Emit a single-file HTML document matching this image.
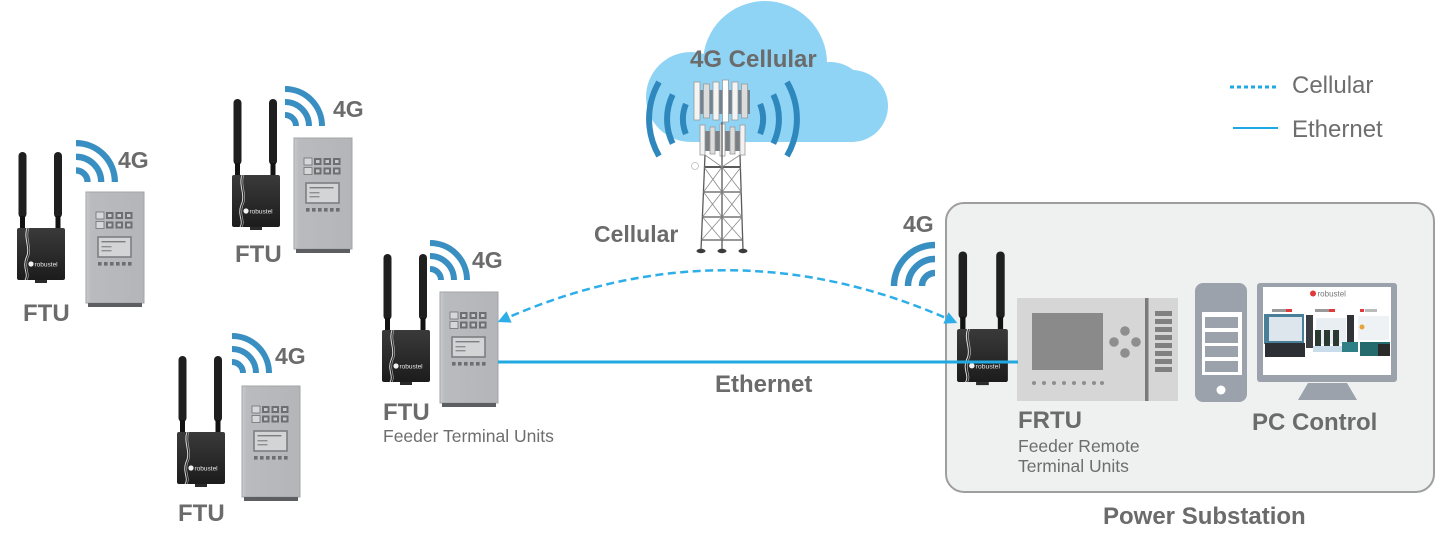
<!DOCTYPE html>
<html>
<head>
<meta charset="utf-8">
<style>
  html, body { margin:0; padding:0; background:#ffffff; }
  svg { display:block; }
  .lb { font-family:"Liberation Sans", Arial, sans-serif; font-weight:bold; fill:#6b6b6b; }
  .lr { font-family:"Liberation Sans", Arial, sans-serif; fill:#6e6e6e; }
</style>
</head>
<body>
<svg width="1451" height="552" viewBox="0 0 1451 552" xmlns="http://www.w3.org/2000/svg">
  <defs>
    <linearGradient id="rg" x1="0" y1="0" x2="0" y2="1">
      <stop offset="0" stop-color="#3a3a3a"/>
      <stop offset="1" stop-color="#1c1c1c"/>
    </linearGradient>
    <linearGradient id="cg" x1="0" y1="0" x2="1" y2="0">
      <stop offset="0" stop-color="#c9cbce"/>
      <stop offset="0.08" stop-color="#b9bbbe"/>
      <stop offset="1" stop-color="#b3b5b8"/>
    </linearGradient>
    <marker id="ah" viewBox="0 0 10 10" refX="8" refY="5" markerWidth="5" markerHeight="5" orient="auto-start-reverse">
      <path d="M0,0 L10,5 L0,10 z" fill="#2eaee8"/>
    </marker>

    <g id="router">
      <rect x="1.5" y="-76" width="8" height="66" rx="4" fill="#1f1f1f"/>
      <rect x="3" y="-12" width="5" height="13" fill="#121212"/>
      <rect x="37" y="-76" width="8" height="66" rx="4" fill="#1f1f1f"/>
      <rect x="38.5" y="-12" width="5" height="13" fill="#121212"/>
      <rect x="0" y="0" width="48" height="52" rx="2" fill="url(#rg)"/>
      <path d="M10,0 C6,10 14,20 9,30 C5,40 12,46 8,52" stroke="#e6e6e6" stroke-width="0.9" fill="none"/>
      <path d="M12,0 C8,10 16,20 11,30 C7,40 14,46 10,52" stroke="#bdbdbd" stroke-width="0.6" fill="none"/>
      <circle cx="14" cy="36" r="2.6" fill="#f2f2f2"/>
      <text x="17.5" y="38.5" font-family="Liberation Sans, Arial, sans-serif" font-size="6.5" fill="#e8e8e8">robustel</text>
      <rect x="18" y="52" width="12" height="3" fill="#2a2a2a"/>
    </g>

    <g id="cab">
      <rect x="0" y="0" width="58" height="111" fill="url(#cg)" stroke="#a3a5a8" stroke-width="1"/>
      <rect x="10" y="20" width="8" height="7" fill="#d6d7d9" stroke="#707276" stroke-width="0.8"/>
      <rect x="20" y="20" width="7.5" height="7" fill="#6c6e72"/>
      <rect x="29.5" y="20" width="7.5" height="7" fill="#6c6e72"/>
      <rect x="39" y="20" width="7.5" height="7" fill="#6c6e72"/>
      <rect x="10" y="29.5" width="8" height="7" fill="#d6d7d9" stroke="#707276" stroke-width="0.8"/>
      <rect x="20" y="29.5" width="7.5" height="7" fill="#6c6e72"/>
      <rect x="29.5" y="29.5" width="7.5" height="7" fill="#6c6e72"/>
      <rect x="39" y="29.5" width="7.5" height="7" fill="#6c6e72"/>
      <rect x="22" y="22" width="3.5" height="3" fill="#c8c9cb"/>
      <rect x="31.5" y="22" width="3.5" height="3" fill="#c8c9cb"/>
      <rect x="41" y="22" width="3.5" height="3" fill="#c8c9cb"/>
      <rect x="22" y="31.5" width="3.5" height="3" fill="#c8c9cb"/>
      <rect x="31.5" y="31.5" width="3.5" height="3" fill="#c8c9cb"/>
      <rect x="41" y="31.5" width="3.5" height="3" fill="#c8c9cb"/>
      <rect x="12" y="45" width="33" height="20" fill="#d2d4d6" stroke="#7c7e82" stroke-width="1.6"/>
      <rect x="15.5" y="49" width="24" height="1.4" fill="#7c7e82"/>
      <rect x="15.5" y="54" width="10" height="1.4" fill="#8c8e92"/>
      <rect x="15.5" y="58" width="10" height="1.4" fill="#8c8e92"/>
      <rect x="12" y="70" width="3.6" height="3.6" fill="#6c6e72"/>
      <rect x="18" y="70" width="3.6" height="3.6" fill="#6c6e72"/>
      <rect x="24" y="70" width="3.6" height="3.6" fill="#6c6e72"/>
      <rect x="30" y="70" width="3.6" height="3.6" fill="#6c6e72"/>
      <rect x="36" y="70" width="3.6" height="3.6" fill="#6c6e72"/>
      <rect x="42" y="70" width="3.6" height="3.6" fill="#6c6e72"/>
      <rect x="2" y="111" width="54" height="4" fill="#5c5e62"/>
    </g>

    <g id="wifi" fill="none" stroke="#3a8fc2" stroke-width="6">
      <path d="M0,29 A11,11 0 0 1 11,40"/>
      <path d="M0,16 A24,24 0 0 1 24,40"/>
      <path d="M0,3 A37,37 0 0 1 37,40"/>
    </g>
  </defs>

  <!-- Cloud -->
  <g fill="#90d4f5">
    <circle cx="765" cy="63" r="62"/>
    <circle cx="691" cy="97" r="45"/>
    <circle cx="852" cy="106" r="36"/>
    <circle cx="830" cy="100" r="38"/>
    <rect x="691" y="92" width="161" height="50"/>
  </g>
  <text class="lb" x="690" y="67" font-size="24">4G Cellular</text>

  <!-- Tower signal arcs -->
  <g fill="none" stroke="#2f88bd" stroke-width="6">
    <path d="M659,82 A74,74 0 0 0 659,156"/>
    <path d="M672.7,94.5 A56,56 0 0 0 672.7,143.5"/>
    <path d="M685.9,104 A40,40 0 0 0 685.9,134"/>
    <path d="M787,82 A74,74 0 0 1 787,156"/>
    <path d="M773.3,94.5 A56,56 0 0 1 773.3,143.5"/>
    <path d="M760.1,104 A40,40 0 0 1 760.1,134"/>
  </g>

  <!-- Tower -->
  <g>
    <rect x="697" y="90" width="53" height="24" fill="#6f8390"/>
    <rect x="694" y="82" width="6" height="38" fill="#f4f4f4" stroke="#9a9a9a" stroke-width="0.8"/>
    <rect x="703.5" y="84" width="6" height="34" fill="#dcdcdc" stroke="#9a9a9a" stroke-width="0.8"/>
    <rect x="713" y="82" width="6" height="38" fill="#f4f4f4" stroke="#9a9a9a" stroke-width="0.8"/>
    <rect x="722.5" y="80" width="6" height="42" fill="#ffffff" stroke="#9a9a9a" stroke-width="0.8"/>
    <rect x="732" y="82" width="6" height="38" fill="#f4f4f4" stroke="#9a9a9a" stroke-width="0.8"/>
    <rect x="741.5" y="84" width="6" height="34" fill="#dcdcdc" stroke="#9a9a9a" stroke-width="0.8"/>
    <rect x="702" y="131" width="42" height="20" fill="#7a7f84"/>
    <rect x="700" y="125" width="5" height="30" fill="#f2f2f2" stroke="#999" stroke-width="0.8"/>
    <rect x="710" y="127" width="5" height="27" fill="#dcdcdc" stroke="#999" stroke-width="0.8"/>
    <rect x="720" y="124" width="5" height="32" fill="#ffffff" stroke="#999" stroke-width="0.8"/>
    <rect x="730" y="127" width="5" height="27" fill="#dcdcdc" stroke="#999" stroke-width="0.8"/>
    <rect x="740" y="125" width="5" height="30" fill="#f2f2f2" stroke="#999" stroke-width="0.8"/>
    <g stroke="#5a5a5a" stroke-width="1.3" fill="none">
      <line x1="705" y1="155" x2="701" y2="250"/>
      <line x1="722" y1="122" x2="722" y2="250"/>
      <line x1="740" y1="155" x2="743" y2="250"/>
      <line x1="704" y1="167" x2="741" y2="167" stroke-width="2"/>
      <line x1="703.5" y1="192" x2="741.5" y2="192"/>
      <line x1="702.5" y1="217" x2="742" y2="217"/>
      <line x1="701.5" y1="240" x2="742.5" y2="240"/>
    </g>
    <g stroke="#8a8a8a" stroke-width="0.8" fill="none">
      <line x1="704" y1="167" x2="722" y2="192"/><line x1="722" y1="167" x2="703.5" y2="192"/>
      <line x1="722" y1="167" x2="741.5" y2="192"/><line x1="741" y1="167" x2="722" y2="192"/>
      <line x1="703.5" y1="192" x2="722" y2="217"/><line x1="722" y1="192" x2="702.5" y2="217"/>
      <line x1="722" y1="192" x2="742" y2="217"/><line x1="741.5" y1="192" x2="722" y2="217"/>
      <line x1="702.5" y1="217" x2="722" y2="240"/><line x1="722" y1="217" x2="701.5" y2="240"/>
      <line x1="722" y1="217" x2="742.5" y2="240"/><line x1="742" y1="217" x2="722" y2="240"/>
      <line x1="705" y1="155" x2="722" y2="167"/><line x1="740" y1="155" x2="722" y2="167"/>
    </g>
    <circle cx="695" cy="166" r="3.5" fill="#fff" stroke="#bbb" stroke-width="0.8"/>
    <ellipse cx="701" cy="251" rx="4.5" ry="2.2" fill="#3c3c3c"/>
    <ellipse cx="722" cy="251" rx="4.5" ry="2.2" fill="#3c3c3c"/>
    <ellipse cx="743" cy="251" rx="4.5" ry="2.2" fill="#3c3c3c"/>
  </g>
  <text class="lb" x="594" y="242" font-size="23">Cellular</text>

  <!-- Legend -->
  <line x1="1230" y1="87" x2="1278" y2="87" stroke="#1fa8e6" stroke-width="3" stroke-dasharray="4 3"/>
  <text class="lr" x="1292" y="93" font-size="24">Cellular</text>
  <line x1="1233" y1="128" x2="1278" y2="128" stroke="#1fa8e6" stroke-width="2"/>
  <text class="lr" x="1292" y="137" font-size="24">Ethernet</text>

  <!-- Substation box -->
  <rect x="946" y="203" width="488" height="289" rx="18" fill="#eff0f0" stroke="#9e9e9e" stroke-width="2"/>
  <text class="lb" x="1103" y="524" font-size="24">Power Substation</text>

  <!-- FTU left -->
  <use href="#router" x="17" y="228"/>
  <use href="#cab" x="86" y="192"/>
  <use href="#wifi" transform="translate(76,140) scale(1.05)"/>
  <text class="lb" x="118" y="168" font-size="23">4G</text>
  <text class="lb" x="23" y="321" font-size="24">FTU</text>

  <!-- FTU top -->
  <use href="#router" x="232" y="175"/>
  <use href="#cab" x="294" y="138"/>
  <use href="#wifi" x="285" y="86"/>
  <text class="lb" x="333" y="117" font-size="23">4G</text>
  <text class="lb" x="235" y="262" font-size="24">FTU</text>

  <!-- FTU bottom -->
  <use href="#router" x="177" y="432"/>
  <use href="#cab" x="242" y="386"/>
  <use href="#wifi" x="232" y="333"/>
  <text class="lb" x="275" y="364" font-size="23">4G</text>
  <text class="lb" x="178" y="521" font-size="24">FTU</text>

  <!-- FTU middle -->
  <use href="#router" x="382" y="330"/>
  <use href="#cab" x="440" y="292"/>
  <use href="#wifi" x="430" y="240"/>
  <text class="lb" x="472" y="268" font-size="23">4G</text>
  <text class="lb" x="383" y="420" font-size="24">FTU</text>
  <text class="lr" x="383" y="442" font-size="17.5">Feeder Terminal Units</text>

  <!-- Substation router + 4G -->
  <use href="#router" transform="translate(957,329) scale(1.06,1.02)"/>
  <g fill="none" stroke="#3a8fc2" stroke-width="6.5">
    <path d="M935,273 A13,13 0 0 0 922,286"/>
    <path d="M935,259 A27,27 0 0 0 908,286"/>
    <path d="M935,245 A41,41 0 0 0 894,286"/>
  </g>
  <text class="lb" x="903" y="232" font-size="23">4G</text>

  <!-- FRTU -->
  <rect x="1017" y="298" width="161" height="103" fill="#d6d6d6"/>
  <rect x="1032" y="313" width="71" height="57" fill="#8a8a8a"/>
  <circle cx="1125" cy="331" r="4.8" fill="#8e8e8e"/>
  <circle cx="1125" cy="353" r="4.8" fill="#8e8e8e"/>
  <circle cx="1114" cy="342" r="4.8" fill="#8e8e8e"/>
  <circle cx="1136" cy="342" r="4.8" fill="#8e8e8e"/>
  <rect x="1145" y="298" width="3.5" height="103" fill="#7a7a7a"/>
  <g fill="#808080">
    <rect x="1155" y="311" width="17" height="5"/>
    <rect x="1155" y="319" width="17" height="5"/>
    <rect x="1155" y="327" width="17" height="5"/>
    <rect x="1155" y="335" width="17" height="5"/>
    <rect x="1155" y="343" width="17" height="5"/>
    <rect x="1155" y="351" width="17" height="5"/>
    <rect x="1155" y="359" width="17" height="5"/>
    <rect x="1155" y="367" width="17" height="5"/>
  </g>
  <g fill="#8e8e8e">
    <circle cx="1034" cy="383" r="2"/><circle cx="1044" cy="383" r="2"/>
    <circle cx="1054" cy="383" r="2"/><circle cx="1064" cy="383" r="2"/>
    <circle cx="1074" cy="383" r="2"/><circle cx="1084" cy="383" r="2"/>
    <circle cx="1094" cy="383" r="2"/><circle cx="1102" cy="383" r="2"/>
  </g>
  <text class="lb" x="1018" y="428" font-size="24">FRTU</text>
  <text class="lr" x="1018" y="452" font-size="17.5">Feeder Remote</text>
  <text class="lr" x="1018" y="472" font-size="17.5">Terminal Units</text>

  <!-- PC tower -->
  <rect x="1195" y="283" width="52" height="119" rx="8" fill="#9ca2ab"/>
  <rect x="1202" y="312" width="40" height="63" fill="#ffffff"/>
  <rect x="1205" y="317" width="33" height="11" fill="#9ca2ab"/>
  <rect x="1205" y="332" width="33" height="11" fill="#9ca2ab"/>
  <rect x="1205" y="346" width="33" height="11" fill="#9ca2ab"/>
  <rect x="1205" y="361" width="33" height="11" fill="#9ca2ab"/>
  <circle cx="1221" cy="390" r="4.5" fill="#ffffff"/>

  <!-- Monitor -->
  <rect x="1257" y="283" width="140" height="99" rx="3" fill="#9ca2ab"/>
  <rect x="1263" y="287" width="128" height="88" fill="#ffffff"/>
  <polygon points="1308,383 1347,383 1357,400 1298,400" fill="#9ca2ab"/>
  <circle cx="1313" cy="293.5" r="3" fill="#e03a3a"/>
  <text x="1317.5" y="296.5" font-family="Liberation Sans, Arial, sans-serif" font-size="8" fill="#777">robustel</text>
  <rect x="1272" y="309" width="14" height="3" fill="#999"/>
  <rect x="1286" y="309" width="6" height="3" fill="#e03a3a"/>
  <rect x="1315" y="309" width="14" height="3" fill="#999"/>
  <rect x="1329" y="309" width="6" height="3" fill="#e03a3a"/>
  <rect x="1360" y="309" width="4" height="3" fill="#e03a3a"/>
  <rect x="1365" y="309" width="12" height="3" fill="#bbb"/>
  <rect x="1264" y="314" width="40" height="30" fill="#4a7f9a"/>
  <rect x="1269" y="317" width="33" height="24" fill="#dde6ec"/>
  <rect x="1265" y="343" width="40" height="14" fill="#2c2f33"/>
  <rect x="1306" y="315" width="7" height="33" fill="#3a3d40"/>
  <rect x="1316" y="318" width="30" height="26" fill="#e8eef2"/>
  <rect x="1315" y="330" width="6" height="20" fill="#2a3a30"/>
  <rect x="1324" y="330" width="6" height="20" fill="#2a3a30"/>
  <rect x="1333" y="330" width="6" height="20" fill="#2a3a30"/>
  <rect x="1313" y="346" width="32" height="6" fill="#c9dcea"/>
  <rect x="1347" y="315" width="7" height="30" fill="#2f3236"/>
  <rect x="1358" y="316" width="31" height="24" fill="#eef2f4"/>
  <circle cx="1362" cy="327" r="2.5" fill="#e8a23a"/>
  <rect x="1342" y="342" width="16" height="10" fill="#2f7f86"/>
  <rect x="1360" y="342" width="30" height="14" fill="#256b6e"/>
  <rect x="1378" y="344" width="12" height="12" fill="#2a2a2a"/>
  <text class="lb" x="1252" y="430" font-size="24">PC Control</text>

  <!-- Connectors -->
  <path d="M500,321 Q727,219 955,322" fill="none" stroke="#2eaee8" stroke-width="2.5" stroke-dasharray="8 4.5" marker-start="url(#ah)" marker-end="url(#ah)"/>
  <line x1="498" y1="362" x2="1018" y2="362" stroke="#20a9e1" stroke-width="3"/>
  <text class="lb" x="715" y="392" font-size="24">Ethernet</text>
</svg>
</body>
</html>
